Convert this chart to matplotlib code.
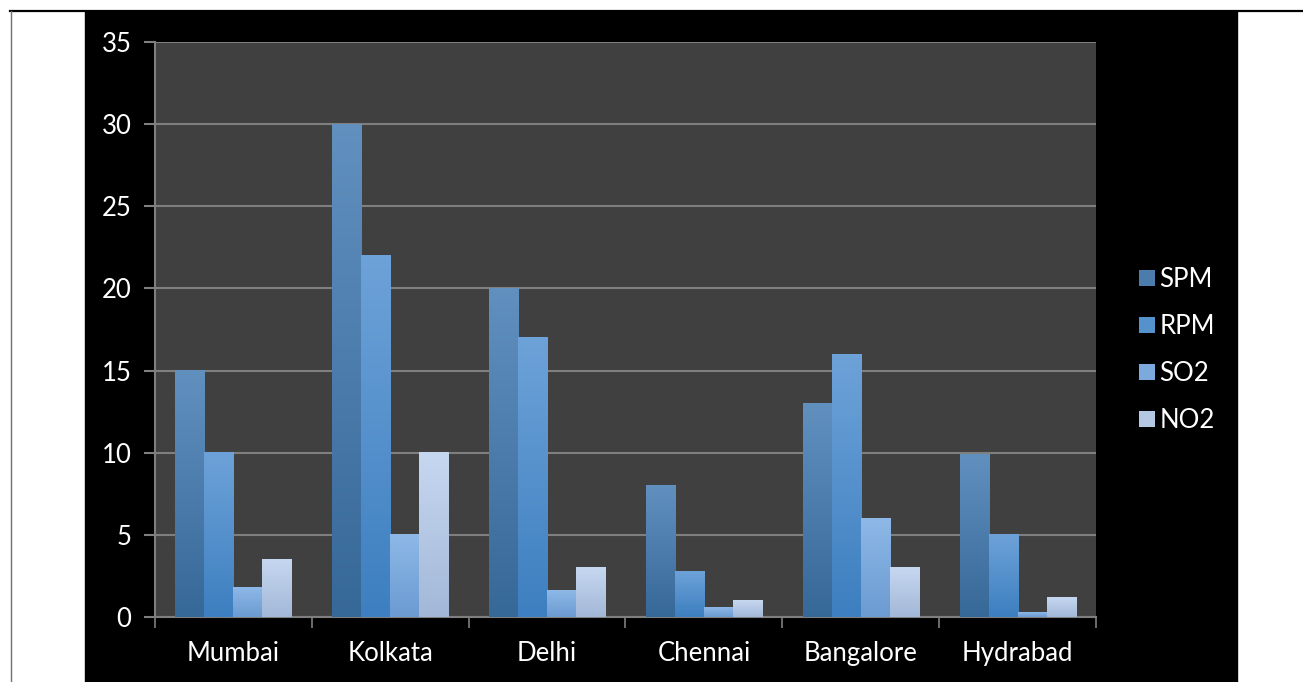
"""Air pollutant levels in six Indian cities, grouped bar chart."""

import matplotlib.pyplot as plt
import numpy as np
from matplotlib.colors import LinearSegmentedColormap, to_rgb
from matplotlib.lines import Line2D
from matplotlib.patches import Rectangle

plt.rcParams['font.family'] = ['Lato', 'DejaVu Sans']

CITIES = ['Mumbai', 'Kolkata', 'Delhi', 'Chennai', 'Bangalore', 'Hydrabad']
SERIES = ['SPM', 'RPM', 'SO2', 'NO2']
SPM = [15, 30, 20, 8, 13, 9.9]
RPM = [10, 22, 17, 2.8, 16, 5]
SO2 = [1.8, 5, 1.6, 0.6, 6, 0.3]
NO2 = [3.5, 10, 3, 1, 3, 1.2]
Y_TICKS = [0, 5, 10, 15, 20, 25, 30, 35]

# (top, bottom) colours of each series' vertical gradient
GRADIENTS = [
    ('#6190bf', '#366898'),
    ('#6da2d8', '#3d7fc0'),
    ('#8db8e7', '#6c9bd2'),
    ('#c6d7f0', '#a3b8d8'),
]

FIGSIZE = (13.03, 6.82)
DPI = 100
AX_RECT = (155 / 1303, 65 / 682, 941 / 1303, 575 / 682)
BAR_W = 0.185
GRID_COLOR = '#7f7f7f'
FONT_SIZE = 18.5


def gradient_bar(ax, rect, top, bottom):
    cmap = LinearSegmentedColormap.from_list('g', [bottom, top])
    grad = np.linspace(0, 1, 64).reshape(-1, 1)
    x0, y0 = rect.get_x(), rect.get_y()
    ax.imshow(grad, cmap=cmap, origin='lower', aspect='auto',
              extent=(x0, x0 + rect.get_width(), y0, y0 + rect.get_height()),
              zorder=3, interpolation='bilinear')


def main():
    values = [SPM, RPM, SO2, NO2]
    fig = plt.figure(figsize=FIGSIZE, dpi=DPI, facecolor='white')

    # black panel and frame lines behind the chart
    fig.patches.append(Rectangle((85 / 1303, 0), 1152 / 1303, 671 / 682,
                                 transform=fig.transFigure, color='black',
                                 zorder=-10))
    fig.lines.append(Line2D([10 / 1303, 1], [671.5 / 682] * 2,
                            transform=fig.transFigure, color='black', lw=1.6,
                            zorder=-5))
    fig.lines.append(Line2D([10.5 / 1303] * 2, [0, 671.5 / 682],
                            transform=fig.transFigure, color='#707070', lw=1,
                            zorder=-5))

    ax = fig.add_axes(AX_RECT)
    ax.set_facecolor('#404040')
    x = np.arange(len(CITIES))
    for i, (vals, (top, bottom)) in enumerate(zip(values, GRADIENTS)):
        offs = (i - 1.5) * BAR_W
        bars = ax.bar(x + offs, vals, BAR_W, color=bottom, zorder=2,
                      linewidth=0)
        for rect in bars:
            gradient_bar(ax, rect, top, bottom)

    ax.set_xlim(-0.5, len(CITIES) - 0.5)
    ax.set_ylim(0, 35)
    ax.set_yticks(Y_TICKS)
    ax.set_xticks(x)
    ax.set_xticklabels(CITIES)
    ax.set_xticks(np.arange(len(CITIES) + 1) - 0.5, minor=True)
    ax.tick_params(axis='x', which='major', length=0, pad=17,
                   labelsize=FONT_SIZE, labelcolor='white')
    ax.tick_params(axis='x', which='minor', length=8, width=1.2,
                   color=GRID_COLOR)
    ax.tick_params(axis='y', length=8, width=1.5, color=GRID_COLOR, pad=9,
                   labelsize=FONT_SIZE, labelcolor='white')
    ax.yaxis.grid(True, color=GRID_COLOR, linewidth=1.5, zorder=1)
    ax.set_axisbelow(True)
    for side in ('top', 'right'):
        ax.spines[side].set_visible(False)
    for side in ('left', 'bottom'):
        ax.spines[side].set_color(GRID_COLOR)
        ax.spines[side].set_linewidth(1.5)

    handles = [Line2D([], [], marker='s', linestyle='none', markersize=11,
                      markerfacecolor=(np.array(to_rgb(t)) + to_rgb(b)) / 2,
                      markeredgewidth=0)
               for t, b in GRADIENTS]
    fig.legend(handles, SERIES, loc='center left',
               bbox_to_anchor=(1113 / 1303, 1 - 350 / 682), frameon=False,
               fontsize=FONT_SIZE, labelcolor='white', handletextpad=0.05,
               labelspacing=0.85, handlelength=0.85)

    fig.savefig('out.png', dpi=DPI, facecolor='white')
    plt.close(fig)


if __name__ == '__main__':
    main()
